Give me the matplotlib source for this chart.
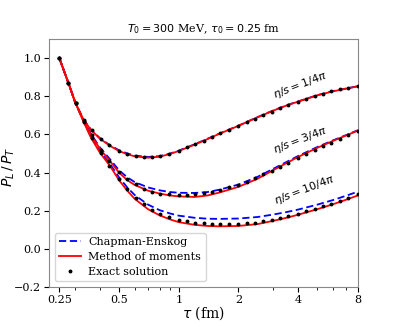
import matplotlib

matplotlib.use("Agg")
import matplotlib.pyplot as plt
from matplotlib.ticker import FixedLocator, LogLocator, NullFormatter

plt.rcParams["font.family"] = ["DejaVu Serif"]
plt.rcParams["mathtext.fontset"] = "dejavusans"

# %% Data (tau in fm, P_L/P_T)
tau = [0.25, 0.28, 0.30, 0.33, 0.36, 0.40, 0.45, 0.50, 0.55, 0.60, 0.70, 0.80,
       0.90, 1.0, 1.2, 1.4, 1.6, 2.0, 2.5, 3.0, 3.5, 4.0, 5.0, 6.0, 7.0, 8.0]

mom_1 = [1.0, 0.86, 0.77, 0.68, 0.625, 0.578, 0.54, 0.513, 0.496, 0.485, 0.478, 0.483,
         0.497, 0.513, 0.546, 0.576, 0.603, 0.645, 0.690, 0.725, 0.752, 0.772, 0.805,
         0.826, 0.840, 0.852]
ce_1 = [1.0, 0.86, 0.77, 0.68, 0.627, 0.581, 0.543, 0.517, 0.500, 0.489, 0.482, 0.486,
        0.499, 0.515, 0.548, 0.578, 0.604, 0.646, 0.691, 0.726, 0.753, 0.773, 0.806,
        0.827, 0.841, 0.853]

mom_2 = [1.0, 0.86, 0.77, 0.675, 0.60, 0.525, 0.46, 0.40, 0.36, 0.335, 0.305, 0.29,
         0.28, 0.275, 0.272, 0.28, 0.295, 0.325, 0.368, 0.413, 0.450, 0.482, 0.530,
         0.566, 0.595, 0.620]
ce_2 = [1.0, 0.86, 0.77, 0.677, 0.605, 0.532, 0.47, 0.412, 0.375, 0.35, 0.322, 0.307,
        0.298, 0.294, 0.293, 0.298, 0.31, 0.337, 0.378, 0.420, 0.456, 0.487, 0.534,
        0.569, 0.597, 0.622]

mom_3 = [1.0, 0.86, 0.77, 0.67, 0.585, 0.505, 0.435, 0.36, 0.305, 0.262, 0.208, 0.176,
         0.155, 0.14, 0.126, 0.12, 0.118, 0.12, 0.13, 0.147, 0.163, 0.179, 0.208,
         0.234, 0.258, 0.280]
ce_3 = [1.0, 0.86, 0.77, 0.672, 0.59, 0.512, 0.445, 0.375, 0.322, 0.282, 0.232, 0.203,
        0.186, 0.174, 0.163, 0.158, 0.157, 0.159, 0.167, 0.180, 0.193, 0.206, 0.232,
        0.256, 0.279, 0.300]

tau_exact = [0.25, 0.275, 0.303, 0.334, 0.367, 0.405, 0.445, 0.50, 0.55, 0.606, 0.667,
             0.735, 0.809, 0.891, 1.0, 1.101, 1.212, 1.335, 1.47, 1.618, 1.782, 2.0,
             2.202, 2.425, 2.67, 2.939, 3.236, 3.564, 4.0, 4.404, 4.849, 5.339, 5.879,
             6.473, 7.127, 8.0]
exact_1 = [1.0, 0.87, 0.765, 0.675, 0.622, 0.577, 0.545, 0.515, 0.497, 0.485, 0.479,
           0.479, 0.486, 0.498, 0.515, 0.532, 0.55, 0.568, 0.586, 0.605, 0.623, 0.645,
           0.664, 0.683, 0.702, 0.72, 0.737, 0.753, 0.772, 0.787, 0.801, 0.814, 0.826,
           0.836, 0.845, 0.853]
exact_2 = [1.0, 0.87, 0.765, 0.67, 0.595, 0.52, 0.463, 0.405, 0.366, 0.338, 0.315,
           0.300, 0.290, 0.285, 0.283, 0.284, 0.287, 0.292, 0.3, 0.31, 0.322, 0.336,
           0.352, 0.370, 0.390, 0.410, 0.431, 0.452, 0.478, 0.498, 0.518, 0.538, 0.557,
           0.576, 0.596, 0.620]
exact_3 = [1.0, 0.87, 0.765, 0.665, 0.58, 0.50, 0.435, 0.365, 0.312, 0.268, 0.233,
           0.205, 0.184, 0.168, 0.153, 0.144, 0.138, 0.134, 0.131, 0.13, 0.13, 0.131,
           0.134, 0.138, 0.144, 0.152, 0.161, 0.171, 0.185, 0.197, 0.21, 0.223, 0.237,
           0.251, 0.266, 0.285]

labels = [r"$\eta/s=1/4\pi$", r"$\eta/s=3/4\pi$", r"$\eta/s=10/4\pi$"]
label_tau = [4.1, 4.1, 4.3]
label_y = [0.86, 0.568, 0.31]

xticks = [0.25, 0.5, 1, 2, 4, 8]
xticklabels = ["0.25", "0.5", "1", "2", "4", "8"]

# %% Plot
fig = plt.figure(figsize=(3.99, 3.28), dpi=100)
ax = fig.add_axes([0.124, 0.125, 0.773, 0.756])

ce_sets = [ce_1, ce_2, ce_3]
mom_sets = [mom_1, mom_2, mom_3]
exact_sets = [exact_1, exact_2, exact_3]
for i in range(3):
    ax.plot(tau, ce_sets[i], color="blue", ls=(0, (4, 2)), lw=1.3,
            label="Chapman-Enskog" if i == 0 else None, zorder=2)
    ax.plot(tau, mom_sets[i], color="red", lw=1.3,
            label="Method of moments" if i == 0 else None, zorder=3)
    ax.plot(tau_exact, exact_sets[i], ls="none", marker="o", ms=1.8, color="black",
            label="Exact solution" if i == 0 else None, zorder=4)
    ax.text(label_tau[i], label_y[i], labels[i], fontsize=8, rotation=21,
            ha="center", va="center")

ax.set_xscale("log")
ax.set_xlim(0.223, 8)
ax.set_ylim(-0.2, 1.1)
ax.xaxis.set_major_locator(FixedLocator(xticks))
ax.set_xticklabels(xticklabels)
ax.xaxis.set_minor_locator(LogLocator(base=10, subs=(2, 3, 4, 5, 6, 7, 8, 9)))
ax.xaxis.set_minor_formatter(NullFormatter())
ax.set_yticks([-0.2, 0.0, 0.2, 0.4, 0.6, 0.8, 1.0])
ax.tick_params(labelsize=8, colors="black", length=3.5, width=0.8, pad=2.5)
ax.tick_params(which="minor", length=2, width=0.6)
for sp in ax.spines.values():
    sp.set_color("#888888")

ax.set_xlabel(r"$\tau$ (fm)", fontsize=10, labelpad=-1)
ax.set_ylabel(r"$P_L\,/\,P_T$", fontsize=10)
ax.yaxis.set_label_coords(-0.105, 0.484)
ax.set_title(r"$T_0=300$ MeV, $\tau_0=0.25$ fm", fontsize=8, pad=5)
ax.legend(loc="lower left", fontsize=8, handlelength=1.9, borderpad=0.4,
          labelspacing=0.45, handletextpad=0.7, borderaxespad=0.5)

plt.savefig("out.png", dpi=100)
plt.close()
